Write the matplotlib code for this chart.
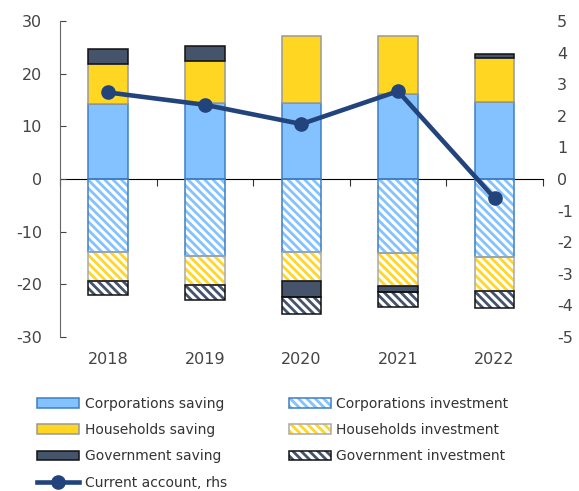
import numpy as np
import matplotlib
matplotlib.use('Agg')
import matplotlib.pyplot as plt

years = ['2018', '2019', '2020', '2021', '2022']
corp_saving = [14.2, 14.4, 14.5, 16.1, 14.7]
corp_inv = [-13.9, -14.6, -13.9, -14.1, -14.9]
hh_saving = [7.6, 8.0, 12.6, 11.0, 8.2]
hh_inv = [-5.5, -5.5, -5.5, -6.2, -6.4]
gov_saving = [2.9, 2.8, -3.0, -1.1, 0.9]
gov_inv = [-2.7, -2.9, -3.2, -2.9, -3.2]
current_account = [2.74, 2.35, 1.74, 2.78, -0.61]

plt.rcParams['font.family'] = 'DejaVu Sans'
plt.rcParams['hatch.linewidth'] = 2.0
plt.rcParams['axes.unicode_minus'] = False
txt = '#444444'

# (name, values, fill, edge, hatched) in Excel stacking order
series = [
    ('Corporations saving', corp_saving, '#84C2FF', '#3D7EC2', False),
    ('Corporations investment', corp_inv, '#84C2FF', '#3D7EC2', True),
    ('Households saving', hh_saving, '#FFD621', '#999999', False),
    ('Households investment', hh_inv, '#FFD621', '#AAAAAA', True),
    ('Government saving', gov_saving, '#45546B', '#111111', False),
    ('Government investment', gov_inv, '#45546B', '#111111', True),
]

fig = plt.figure(figsize=(5.79, 4.91), dpi=100)
ax = fig.add_axes([0.1036, 0.314, 0.834, 0.643])
x = np.arange(len(years))
w = 0.41

pos = np.zeros(len(years))
neg = np.zeros(len(years))
handles = {}
for name, vals, fc, ec, hatched in series:
    v = np.array(vals)
    bottom = np.where(v >= 0, pos, neg)
    if hatched:
        ax.bar(x, v, w, bottom=bottom, facecolor='white', edgecolor=fc,
               linewidth=0, hatch='\\\\\\\\', zorder=2)
        ax.bar(x, v, w, bottom=bottom, fill=False, edgecolor=ec, linewidth=1.1, zorder=3)
        h1 = plt.Rectangle((0, 0), 1, 1, facecolor='white', edgecolor=fc, linewidth=0, hatch='\\\\\\\\')
        h2 = plt.Rectangle((0, 0), 1, 1, fill=False, edgecolor=ec, linewidth=1.1)
        handles[name] = (h1, h2)
    else:
        b = ax.bar(x, v, w, bottom=bottom, facecolor=fc, edgecolor=ec, linewidth=1.1, zorder=3)
        handles[name] = b
    pos = pos + np.where(v >= 0, v, 0)
    neg = neg + np.where(v < 0, v, 0)

ax.set_ylim(-30, 30)
ax.set_yticks(np.arange(-30, 31, 10))
ax.set_xlim(-0.5, 4.5)
ax.set_xticks(x)
ax.set_xticklabels(years)
ax.tick_params(axis='x', length=0, pad=11, labelsize=11.5, colors=txt)
ax.tick_params(axis='y', direction='in', length=4, pad=13, labelsize=11.5,
               colors=txt, color='#444444')
for s in ['top', 'right', 'bottom']:
    ax.spines[s].set_visible(False)
ax.spines['left'].set_color('#666666')

# zero line with category separators
zx = ax.secondary_xaxis(0.5)
zx.set_xticks(np.arange(-0.5, 5, 1))
zx.tick_params(direction='in', length=5, labelbottom=False, color='#333333')
zx.set_xticklabels([])
zx.spines['bottom'].set_color('#333333')

ax2 = ax.twinx()
ax2.set_ylim(-5, 5)
ax2.set_yticks(np.arange(-5, 6, 1))
for s in ax2.spines.values():
    s.set_visible(False)
ax2.tick_params(axis='y', length=0, pad=10, labelsize=11.5, colors=txt)
line, = ax2.plot(x, current_account, color='#22437C', linewidth=3.3,
                 marker='o', markersize=9.5, zorder=5, label='Current account, rhs')

order = ['Corporations saving', 'Households saving', 'Government saving']
order2 = ['Corporations investment', 'Households investment', 'Government investment']
hl = [handles[n] for n in order] + [line] + [handles[n] for n in order2]
lb = order + ['Current account, rhs'] + order2
fig.legend(hl, lb, loc='upper left', bbox_to_anchor=(0.055, 0.203), ncol=2,
           frameon=False, fontsize=10, handlelength=3.0, handleheight=0.7,
           handletextpad=0.4, columnspacing=4.5, labelspacing=0.88,
           labelcolor='#333333', borderaxespad=0)

fig.savefig('out.png', dpi=100)
